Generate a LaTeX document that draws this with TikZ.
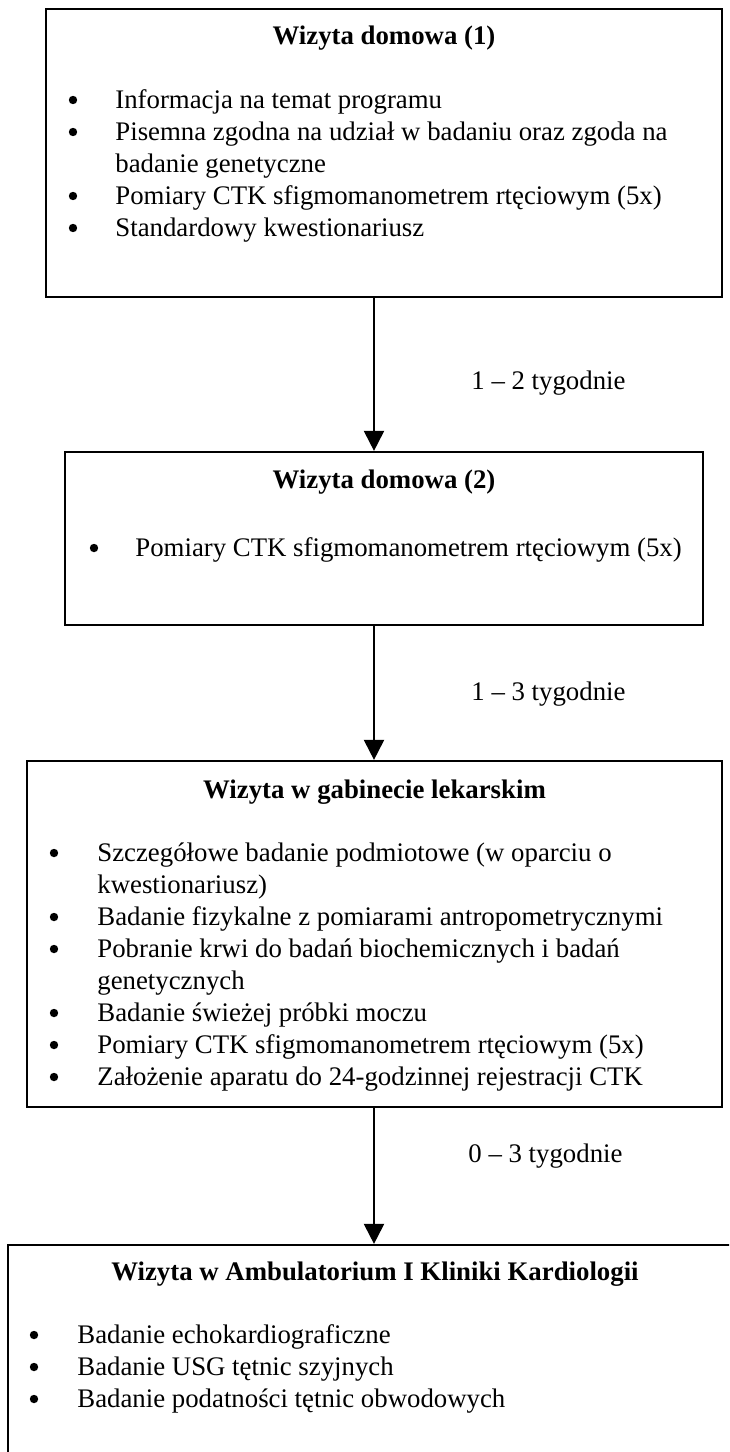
\documentclass[tikz,border=0pt]{standalone}
\usepackage{fontspec}
\setmainfont{Liberation Serif}
\usetikzlibrary{arrows.meta}
\begin{document}
\begin{tikzpicture}[x=0.5pt,y=-0.5pt,
  box/.style={draw, line width=1.1pt, rectangle, inner sep=0pt},
  ln/.style={anchor=base west, inner sep=0pt, font=\fontsize{13.4}{16}\selectfont},
  ttl/.style={anchor=base, inner sep=0pt, font=\fontsize{13.4}{16}\selectfont\bfseries},
  dot/.style={circle, fill=black, inner sep=0pt, minimum size=4.2pt},
  lbl/.style={anchor=base west, inner sep=0pt, font=\fontsize{13.4}{16}\selectfont},
  arr/.style={line width=1pt, -{Triangle[width=10pt,length=10pt]}}]
\useasboundingbox (0,0) rectangle (729,1452);
\fill[white] (0,0) rectangle (729,1452);
\clip (0,0) rectangle (729,1452);

% boxes
\node[box, minimum width=338pt, minimum height=144pt] (b1) at (384,153) {};
\node[box, minimum width=319pt, minimum height=86.5pt] (b2) at (384,538.5) {};
\node[box, minimum width=347.5pt, minimum height=173pt] (b3) at (374.5,934) {};
\node[box, minimum width=367pt, minimum height=130pt] (b4) at (375,1375) {};

% arrows
\coordinate (ax) at (374,0);
\draw[arr] (b1.south -| ax) -- (b2.north -| ax);
\draw[arr] (b2.south -| ax) -- (b3.north -| ax);
\draw[arr] (b3.south -| ax) -- (b4.north -| ax);

\node[lbl] (l1) at (471,389) {1 – 2 tygodnie};
\node[lbl] (l2) at (471,700) {1 – 3 tygodnie};
\node[lbl] (l3) at (468,1162) {0 – 3 tygodnie};

% box 1
\node[ttl] (t1) at (384,44) {Wizyta domowa (1)};
\node[dot] (p11) at (73,100) {};
\node[ln] (s11) at (115,108) {Informacja na temat programu};
\node[dot] (p12) at (73,132) {};
\node[ln] (s12) at (115,140) {Pisemna zgodna na udział w badaniu oraz zgoda na};
\node[ln] (s12b) at (115,172) {badanie genetyczne};
\node[dot] (p13) at (73,196) {};
\node[ln] (s13) at (115,204) {Pomiary CTK sfigmomanometrem rtęciowym (5x)};
\node[dot] (p14) at (73,228) {};
\node[ln] (s14) at (115,236) {Standardowy kwestionariusz};

% box 2
\node[ttl] (t2) at (384,488) {Wizyta domowa (2)};
\node[dot] (p21) at (94,548) {};
\node[ln] (s21) at (135,556) {Pomiary CTK sfigmomanometrem rtęciowym (5x)};

% box 3
\node[ttl] (t3) at (374.5,798) {Wizyta w gabinecie lekarskim};
\node[dot] (p31) at (54,853) {};
\node[ln] (s31) at (97,861) {Szczegółowe badanie podmiotowe (w oparciu o};
\node[ln] (s31b) at (97,893) {kwestionariusz)};
\node[dot] (p32) at (54,917) {};
\node[ln] (s32) at (97,925) {Badanie fizykalne z pomiarami antropometrycznymi};
\node[dot] (p33) at (54,949) {};
\node[ln] (s33) at (97,957) {Pobranie krwi do badań biochemicznych i badań};
\node[ln] (s33b) at (97,989) {genetycznych};
\node[dot] (p34) at (54,1013) {};
\node[ln] (s34) at (97,1021) {Badanie świeżej próbki moczu};
\node[dot] (p35) at (54,1045) {};
\node[ln] (s35) at (97,1053) {Pomiary CTK sfigmomanometrem rtęciowym (5x)};
\node[dot] (p36) at (54,1077) {};
\node[ln] (s36) at (97,1085) {Założenie aparatu do 24-godzinnej rejestracji CTK};

% box 4
\node[ttl] (t4) at (375,1280) {Wizyta w Ambulatorium I Kliniki Kardiologii};
\node[dot] (p41) at (34,1335) {};
\node[ln] (s41) at (77,1343) {Badanie echokardiograficzne};
\node[dot] (p42) at (34,1367) {};
\node[ln] (s42) at (77,1375) {Badanie USG tętnic szyjnych};
\node[dot] (p43) at (34,1399) {};
\node[ln] (s43) at (77,1407) {Badanie podatności tętnic obwodowych};
\end{tikzpicture}
\end{document}
